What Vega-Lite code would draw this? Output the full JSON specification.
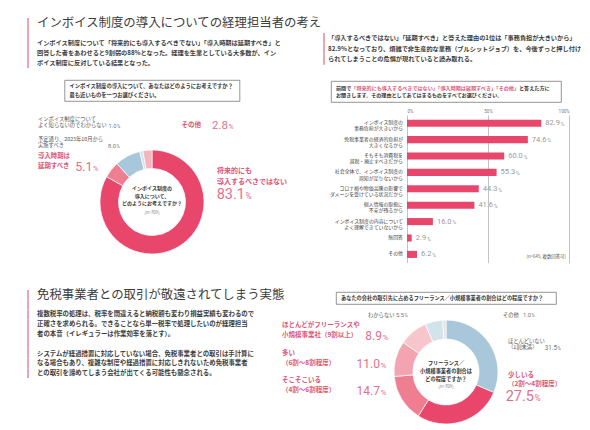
{
  "$schema": "https://vega.github.io/schema/vega-lite/v6.json",
  "background": "#ffffff",
  "padding": {"left": 27, "top": 15, "right": 0, "bottom": 0},
  "config": {
    "view": {"stroke": null},
    "font": "Noto Sans CJK JP",
    "text": {"font": "Noto Sans CJK JP", "baseline": "middle"},
    "axis": {"labelFont": "Roboto"}
  },
  "datasets": {
    "introA": [
      {"line": 0, "role": "heading", "text": "インボイス制度の導入についての経理担当者の考え"},
      {"line": 1, "role": "body", "text": ""},
      {"line": 2, "role": "body", "text": "インボイス制度について「将来的にも導入するべきでない」「導入時期は延期すべき」と"},
      {"line": 3, "role": "body", "text": "回答した者をあわせると9割弱の88%となった。経理を生業としている大多数が、イン"},
      {"line": 4, "role": "body", "text": "ボイス制度に反対している結果となった。"}
    ],
    "introR": [
      {"line": 0, "text": "「導入するべきではない」「延期すべき」と答えた理由の1位は「事務負担が大きいから」"},
      {"line": 1, "text": "82.9%となっており、煩雑で非生産的な業務（ブルシットジョブ）を、今後ずっと押し付け"},
      {"line": 2, "text": "られてしまうことの危惧が現れていると読み取れる。"}
    ],
    "introB": [
      {"line": 0, "role": "heading", "text": "免税事業者との取引が敬遠されてしまう実態"},
      {"line": 1, "role": "body", "text": ""},
      {"line": 2, "role": "body", "text": "複数税率の処理は、税率を間違えると納税額も変わり損益実績も変わるので"},
      {"line": 3, "role": "body", "text": "正確さを求められる。できることなら単一税率で処理したいのが経理担当"},
      {"line": 4, "role": "body", "text": "者の本音（イレギュラーは作業効率を落とす）。"},
      {"line": 5, "role": "body", "text": ""},
      {"line": 6, "role": "body", "text": "システムが経過措置に対応していない場合、免税事業者との取引は手計算に"},
      {"line": 7, "role": "body", "text": "なる場合もあり、複雑な制度や経過措置に対応しきれないため免税事業者"},
      {"line": 8, "role": "body", "text": "との取引を諦めてしまう会社が出てくる可能性も懸念される。"}
    ],
    "question1": [
      {"line": 0, "text": "インボイス制度の導入について、あなたはどのようにお考えですか？"},
      {"line": 1, "text": "最も近いものを一つお選びください。"}
    ],
    "question2": [
      {"line": 0, "part": "lead", "text": "前問で"},
      {"line": 0, "part": "quote", "text": "「将来的にも導入するべきではない」「導入時期は延期すべき」「その他」"},
      {"line": 0, "part": "tail", "text": "と答えた方に"},
      {"line": 1, "part": "lead", "text": "お聞きします。その理由としてあてはまるものをすべてお選びください。"}
    ],
    "question3": [
      {"line": 0, "text": "あなたの会社の取引先に占めるフリーランス／小規模事業者の割合はどの程度ですか？"}
    ],
    "opinion": [
      {"n": 1, "label": "将来的にも\n導入するべきではない", "value": 83.1},
      {"n": 2, "label": "導入時期は\n延期すべき", "value": 5.1},
      {"n": 3, "label": "予定通り、2023年10月から\n実施すべき", "value": 8.0},
      {"n": 4, "label": "インボイス制度について\nよく知らないのでわからない", "value": 1.0},
      {"n": 5, "label": "その他", "value": 2.8}
    ],
    "opinionCenter": [
      {"text": "インボイス制度の\n導入について、\nどのようにお考えですか？", "base": "（n=709）"}
    ],
    "reasons": [
      {"reason": "インボイス制度の\n事務負担が大きいから", "pct": 82.9},
      {"reason": "免税事業者の経済的負担が\n大きくなるから", "pct": 74.6},
      {"reason": "そもそも消費税を\n減税・廃止すべきだから", "pct": 60.0},
      {"reason": "社会全体で、インボイス制度の\n周知が足りないから", "pct": 55.3},
      {"reason": "コロナ禍や物価高騰の影響で\nダメージを受けている状況だから", "pct": 44.3},
      {"reason": "個人情報の取扱に\n不安が残るから", "pct": 41.6},
      {"reason": "インボイス制度の内容について\nよく理解できていないから", "pct": 16.0},
      {"reason": "無回答", "pct": 2.9},
      {"reason": "その他", "pct": 6.2}
    ],
    "share": [
      {"n": 1, "label": "ほとんどいない\n（1割未満）", "value": 31.5},
      {"n": 2, "label": "少しいる\n（2割〜4割程度）", "value": 27.5},
      {"n": 3, "label": "そこそこいる\n（4割〜6割程度）", "value": 14.7},
      {"n": 4, "label": "多い\n（6割〜8割程度）", "value": 11.0},
      {"n": 5, "label": "ほとんどがフリーランスや\n小規模事業社（9割以上）", "value": 8.9},
      {"n": 6, "label": "わからない", "value": 5.5},
      {"n": 7, "label": "その他", "value": 1.0}
    ],
    "shareCenter": [
      {"text": "フリーランス／\n小規模事業者の割合は\nどの程度ですか？", "base": "（n=709）"}
    ]
  },
  "resolve": {"scale": {"color": "independent", "theta": "independent"}},
  "hconcat": [
    {
      "vconcat": [
        {
          "vconcat": [
            {
              "width": 250,
              "height": 53,
              "data": {"name": "introA"},
              "encoding": {
                "y": {"field": "line", "type": "ordinal", "axis": null,
                      "scale": {"type": "band", "paddingInner": 0, "paddingOuter": 0.15, "align": 1}}
              },
              "layer": [
                {"mark": {"type": "rect", "color": "#EFA2B4"},
                 "encoding": {"x": {"value": 0}, "x2": {"value": 2}}},
                {"transform": [{"filter": "datum.role === 'heading'"}],
                 "mark": {"type": "text", "align": "left", "dx": 10, "fontSize": 12.4, "color": "#3c3c3c"},
                 "encoding": {"x": {"value": 0}, "text": {"field": "text"}}},
                {"transform": [{"filter": "datum.role === 'body'"}],
                 "mark": {"type": "text", "align": "left", "dx": 10, "fontSize": 6.2, "fontWeight": "bold", "color": "#3c3c3c"},
                 "encoding": {"x": {"value": 0}, "text": {"field": "text"}}}
              ]
            },
            {
              "vconcat": [
                {
                  "width": 175,
                  "height": 21,
                  "view": {"stroke": "#7a7a7a", "strokeWidth": 0.8},
                  "data": {"name": "question1"},
                  "mark": {"type": "text", "align": "left", "dx": 5, "fontSize": 5.3, "fontWeight": "bold", "color": "#333333"},
                  "encoding": {
                    "y": {"field": "line", "type": "ordinal", "axis": null, "scale": {"type": "point", "padding": 0.667}},
                    "x": {"value": 0},
                    "text": {"field": "text"}
                  }
                },
                {
                  "width": 250,
                  "height": 104,
                  "layer": [
                    {"data": {"name": "opinion"},
                     "mark": {"type": "arc", "outerRadius": 52, "innerRadius": 33.5, "stroke": "#ffffff", "strokeWidth": 0.7},
                     "encoding": {
                       "theta": {"field": "value", "type": "quantitative", "stack": true},
                       "order": {"field": "n", "type": "quantitative"},
                       "color": {"field": "n", "type": "nominal", "legend": null,
                                 "scale": {"domain": [1, 2, 3, 4, 5], "range": ["#E8466B", "#EE7E90", "#A8C7DA", "#D2E3EC", "#F5B5BF"]}}
                     }},
                    {"data": {"name": "opinionCenter"},
                     "mark": {"type": "text", "align": "center", "dy": -14, "fontSize": 5.0, "lineHeight": 7.6, "lineBreak": "\n", "fontWeight": "bold", "color": "#333333"},
                     "encoding": {"text": {"field": "text"}}},
                    {"data": {"name": "opinionCenter"},
                     "mark": {"type": "text", "align": "center", "dy": 11, "fontSize": 4.3, "color": "#777777"},
                     "encoding": {"text": {"field": "base"}}},
                    {"data": {"name": "opinion"}, "transform": [{"filter": "datum.n === 1"}],
                     "mark": {"type": "text", "align": "left", "dx": 65, "dy": -31, "fontSize": 7, "lineHeight": 11, "lineBreak": "\n", "fontWeight": "bold", "color": "#DD5478"},
                     "encoding": {"text": {"field": "label"}}},
                    {"data": {"name": "opinion"}, "transform": [{"filter": "datum.n === 1"}],
                     "mark": {"type": "text", "align": "right", "baseline": "alphabetic", "dx": 93, "dy": -3.5, "font": "Roboto", "fontSize": 14.5, "color": "#E4708C"},
                     "encoding": {"text": {"field": "value", "format": ".1f"}}},
                    {"data": {"name": "opinion"}, "transform": [{"filter": "datum.n === 1"}],
                     "mark": {"type": "text", "align": "left", "baseline": "alphabetic", "dx": 93.5, "dy": -3.5, "font": "Roboto", "fontSize": 8.5, "color": "#E4708C"},
                     "encoding": {"text": {"value": "%"}}},
                    {"data": {"name": "opinion"}, "transform": [{"filter": "datum.n === 2"}],
                     "mark": {"type": "text", "align": "left", "dx": -114, "dy": -46, "fontSize": 6.4, "lineHeight": 10, "lineBreak": "\n", "fontWeight": "bold", "color": "#DD5478"},
                     "encoding": {"text": {"field": "label"}}},
                    {"data": {"name": "opinion"}, "transform": [{"filter": "datum.n === 2"}],
                     "mark": {"type": "text", "align": "right", "baseline": "alphabetic", "dx": -59.5, "dy": -31, "font": "Roboto", "fontSize": 12.5, "color": "#E4708C"},
                     "encoding": {"text": {"field": "value", "format": ".1f"}}},
                    {"data": {"name": "opinion"}, "transform": [{"filter": "datum.n === 2"}],
                     "mark": {"type": "text", "align": "left", "baseline": "alphabetic", "dx": -59, "dy": -31, "font": "Roboto", "fontSize": 7.5, "color": "#E4708C"},
                     "encoding": {"text": {"value": "%"}}},
                    {"data": {"name": "opinion"}, "transform": [{"filter": "datum.n === 3"}],
                     "mark": {"type": "text", "align": "left", "dx": -114, "dy": -63.3, "fontSize": 5.3, "lineHeight": 6.8, "lineBreak": "\n", "color": "#555555"},
                     "encoding": {"text": {"field": "label"}}},
                    {"data": {"name": "opinion"}, "transform": [{"filter": "datum.n === 3"}],
                     "mark": {"type": "text", "align": "right", "baseline": "alphabetic", "dx": -36, "dy": -54.3, "font": "Roboto", "fontSize": 5.8, "color": "#777777"},
                     "encoding": {"text": {"field": "value", "format": ".1f"}}},
                    {"data": {"name": "opinion"}, "transform": [{"filter": "datum.n === 3"}],
                     "mark": {"type": "text", "align": "left", "baseline": "alphabetic", "dx": -35.6, "dy": -54.3, "font": "Roboto", "fontSize": 4.5, "color": "#777777"},
                     "encoding": {"text": {"value": "%"}}},
                    {"data": {"name": "opinion"}, "transform": [{"filter": "datum.n === 4"}],
                     "mark": {"type": "text", "align": "left", "dx": -114, "dy": -83.4, "fontSize": 5.3, "lineHeight": 6.8, "lineBreak": "\n", "color": "#555555"},
                     "encoding": {"text": {"field": "label"}}},
                    {"data": {"name": "opinion"}, "transform": [{"filter": "datum.n === 4"}],
                     "mark": {"type": "text", "align": "right", "baseline": "alphabetic", "dx": -35.5, "dy": -74.5, "font": "Roboto", "fontSize": 5.8, "color": "#777777"},
                     "encoding": {"text": {"field": "value", "format": ".1f"}}},
                    {"data": {"name": "opinion"}, "transform": [{"filter": "datum.n === 4"}],
                     "mark": {"type": "text", "align": "left", "baseline": "alphabetic", "dx": -35.1, "dy": -74.5, "font": "Roboto", "fontSize": 4.5, "color": "#777777"},
                     "encoding": {"text": {"value": "%"}}},
                    {"data": {"name": "opinion"}, "transform": [{"filter": "datum.n === 5"}],
                     "mark": {"type": "text", "align": "right", "dx": 49, "dy": -77, "fontSize": 6.5, "fontWeight": "bold", "color": "#DD5478"},
                     "encoding": {"text": {"field": "label"}}},
                    {"data": {"name": "opinion"}, "transform": [{"filter": "datum.n === 5"}],
                     "mark": {"type": "text", "align": "right", "baseline": "alphabetic", "dx": 76, "dy": -73, "font": "Roboto", "fontSize": 11.5, "color": "#E4708C"},
                     "encoding": {"text": {"field": "value", "format": ".1f"}}},
                    {"data": {"name": "opinion"}, "transform": [{"filter": "datum.n === 5"}],
                     "mark": {"type": "text", "align": "left", "baseline": "alphabetic", "dx": 76.5, "dy": -73, "font": "Roboto", "fontSize": 7, "color": "#E4708C"},
                     "encoding": {"text": {"value": "%"}}}
                  ]
                }
              ],
              "spacing": 49,
              "bounds": "flush",
              "center": true
            }
          ],
          "spacing": 12,
          "bounds": "flush"
        },
        {
          "width": 250,
          "height": 88,
          "data": {"name": "introB"},
          "encoding": {
            "y": {"field": "line", "type": "ordinal", "axis": null,
                  "scale": {"type": "band", "paddingInner": 0, "paddingOuter": 0}}
          },
          "layer": [
            {"mark": {"type": "rect", "color": "#EFA2B4"},
             "encoding": {"x": {"value": 0}, "x2": {"value": 2}}},
            {"transform": [{"filter": "datum.role === 'heading'"}],
             "mark": {"type": "text", "align": "left", "dx": 10, "fontSize": 12.4, "color": "#3c3c3c"},
             "encoding": {"x": {"value": 0}, "text": {"field": "text"}}},
            {"transform": [{"filter": "datum.role === 'body'"}],
             "mark": {"type": "text", "align": "left", "dx": 10, "fontSize": 6.4, "fontWeight": "bold", "color": "#3c3c3c"},
             "encoding": {"x": {"value": 0}, "text": {"field": "text"}}}
          ]
        }
      ],
      "spacing": 275,
      "bounds": "flush"
    },
    {
      "vconcat": [
        {
          "vconcat": [
            {
              "width": 246,
              "height": 53,
              "data": {"name": "introR"},
              "encoding": {
                "y": {"field": "line", "type": "ordinal", "axis": null,
                      "scale": {"type": "band", "paddingInner": 0, "paddingOuter": 1.289, "align": 0.847}}
              },
              "layer": [
                {"mark": {"type": "rect", "color": "#EFA2B4"},
                 "encoding": {"x": {"value": 0}, "x2": {"value": 2}}},
                {"mark": {"type": "text", "align": "left", "dx": 5, "fontSize": 6.2, "fontWeight": "bold", "color": "#3c3c3c"},
                 "encoding": {"x": {"value": 0}, "text": {"field": "text"}}}
              ]
            },
            {
              "width": 230,
              "height": 21,
              "view": {"stroke": "#7a7a7a", "strokeWidth": 0.8},
              "data": {"name": "question2"},
              "encoding": {
                "y": {"field": "line", "type": "ordinal", "axis": null, "scale": {"type": "point", "padding": 0.94}},
                "x": {"value": 0},
                "text": {"field": "text"}
              },
              "layer": [
                {"transform": [{"filter": "datum.part === 'lead'"}],
                 "mark": {"type": "text", "align": "left", "dx": 5, "fontSize": 5.1, "fontWeight": "bold", "color": "#333333"}},
                {"transform": [{"filter": "datum.part === 'quote'"}],
                 "mark": {"type": "text", "align": "left", "dx": 20.3, "fontSize": 5.1, "fontWeight": "bold", "color": "#DD5478"}},
                {"transform": [{"filter": "datum.part === 'tail'"}],
                 "mark": {"type": "text", "align": "left", "dx": 188, "fontSize": 5.1, "fontWeight": "bold", "color": "#333333"}}
              ]
            },
            {
              "width": 246,
              "height": 147.6,
              "data": {"name": "reasons"},
              "encoding": {
                "y": {"field": "reason", "type": "nominal", "sort": null, "axis": null,
                      "scale": {"paddingInner": 0.57, "paddingOuter": 0.285}}
              },
              "layer": [
                {"mark": {"type": "bar", "color": "#E8466B"},
                 "encoding": {
                   "x": {"field": "pct", "type": "quantitative",
                         "scale": {"domain": [0, 100], "range": [84, 246]},
                         "axis": {"orient": "top", "values": [0, 50, 100], "grid": true, "gridColor": "#9a9a9a", "gridWidth": 0.6,
                                  "domain": false, "ticks": false, "labelExpr": "datum.value + '%'", "labelFontSize": 4.5,
                                  "labelColor": "#777777", "labelPadding": 2, "title": null}}
                 }},
                {"mark": {"type": "text", "align": "left", "dx": 4, "font": "Roboto", "fontSize": 7.5, "color": "#9a9a9a"},
                 "encoding": {"x": {"field": "pct", "type": "quantitative"}, "text": {"field": "pct", "format": ".1f"}}},
                {"mark": {"type": "text", "align": "left", "dx": {"expr": "datum.pct >= 10 ? 19.5 : 15.3"}, "dy": 0.8, "font": "Roboto", "fontSize": 5, "color": "#9a9a9a"},
                 "encoding": {"x": {"field": "pct", "type": "quantitative"}, "text": {"value": "%"}}},
                {"mark": {"type": "text", "align": "right", "dx": -4, "fontSize": 4.9, "lineHeight": 6.2, "lineBreak": "\n", "color": "#444444"},
                 "encoding": {"x": {"datum": 0}, "text": {"field": "reason"}}},
                {"data": {"values": [{"note": "(n=645, 複数回答可)"}]},
                 "mark": {"type": "text", "align": "right", "dx": -3, "dy": 3, "fontSize": 4.4, "color": "#555555"},
                 "encoding": {"x": {"datum": 100}, "y": {"datum": "その他"}, "text": {"field": "note"}}}
              ]
            }
          ],
          "spacing": 13,
          "bounds": "flush",
          "center": true
        },
        {
          "vconcat": [
            {
              "width": 220,
              "height": 12,
              "view": {"stroke": "#7a7a7a", "strokeWidth": 0.8},
              "data": {"name": "question3"},
              "mark": {"type": "text", "align": "left", "dx": 5, "fontSize": 5.2, "fontWeight": "bold", "color": "#333333"},
              "encoding": {
                "y": {"field": "line", "type": "ordinal", "axis": null, "scale": {"type": "point", "padding": 0.5}},
                "x": {"value": 0},
                "text": {"field": "text"}
              }
            },
            {
              "width": 246,
              "height": 104,
              "layer": [
                {"data": {"name": "share"},
                 "mark": {"type": "arc", "outerRadius": 52, "innerRadius": 33, "stroke": "#ffffff", "strokeWidth": 0.7},
                 "encoding": {
                   "theta": {"field": "value", "type": "quantitative", "stack": true},
                   "order": {"field": "n", "type": "quantitative"},
                   "color": {"field": "n", "type": "nominal", "legend": null,
                             "scale": {"domain": [1, 2, 3, 4, 5, 6, 7],
                                       "range": ["#A8C7DA", "#E8466B", "#EE7E90", "#F3A4B1", "#F7C6CD", "#D2E3EC", "#E3E3E3"]}}
                 }},
                {"data": {"name": "shareCenter"},
                 "mark": {"type": "text", "align": "center", "dy": -8.7, "fontSize": 5.2, "lineHeight": 7.8, "lineBreak": "\n", "fontWeight": "bold", "color": "#333333"},
                 "encoding": {"text": {"field": "text"}}},
                {"data": {"name": "shareCenter"},
                 "mark": {"type": "text", "align": "center", "dy": 15.3, "fontSize": 4.3, "color": "#777777"},
                 "encoding": {"text": {"field": "base"}}},
                {"data": {"name": "share"}, "transform": [{"filter": "datum.n === 1"}],
                 "mark": {"type": "text", "align": "left", "dx": 62, "dy": -31.5, "fontSize": 5.3, "lineHeight": 6.8, "lineBreak": "\n", "color": "#555555"},
                 "encoding": {"text": {"field": "label"}}},
                {"data": {"name": "share"}, "transform": [{"filter": "datum.n === 1"}],
                 "mark": {"type": "text", "align": "right", "baseline": "alphabetic", "dx": 111, "dy": -22.5, "font": "Roboto", "fontSize": 6.3, "color": "#777777"},
                 "encoding": {"text": {"field": "value", "format": ".1f"}}},
                {"data": {"name": "share"}, "transform": [{"filter": "datum.n === 1"}],
                 "mark": {"type": "text", "align": "left", "baseline": "alphabetic", "dx": 111.4, "dy": -22.5, "font": "Roboto", "fontSize": 4.5, "color": "#777777"},
                 "encoding": {"text": {"value": "%"}}},
                {"data": {"name": "share"}, "transform": [{"filter": "datum.n === 2"}],
                 "mark": {"type": "text", "align": "left", "dx": 62, "dy": 3, "fontSize": 6.5, "lineHeight": 8.5, "lineBreak": "\n", "fontWeight": "bold", "color": "#DD5478"},
                 "encoding": {"text": {"field": "label"}}},
                {"data": {"name": "share"}, "transform": [{"filter": "datum.n === 2"}],
                 "mark": {"type": "text", "align": "right", "baseline": "alphabetic", "dx": 88, "dy": 28.5, "font": "Roboto", "fontSize": 14.5, "color": "#E4708C"},
                 "encoding": {"text": {"field": "value", "format": ".1f"}}},
                {"data": {"name": "share"}, "transform": [{"filter": "datum.n === 2"}],
                 "mark": {"type": "text", "align": "left", "baseline": "alphabetic", "dx": 88.5, "dy": 28.5, "font": "Roboto", "fontSize": 8.5, "color": "#E4708C"},
                 "encoding": {"text": {"value": "%"}}},
                {"data": {"name": "share"}, "transform": [{"filter": "datum.n === 3"}],
                 "mark": {"type": "text", "align": "left", "dx": -164, "dy": 8, "fontSize": 6.5, "lineHeight": 10, "lineBreak": "\n", "fontWeight": "bold", "color": "#DD5478"},
                 "encoding": {"text": {"field": "label"}}},
                {"data": {"name": "share"}, "transform": [{"filter": "datum.n === 3"}],
                 "mark": {"type": "text", "align": "right", "baseline": "alphabetic", "dx": -66, "dy": 23, "font": "Roboto", "fontSize": 12, "color": "#E4708C"},
                 "encoding": {"text": {"field": "value", "format": ".1f"}}},
                {"data": {"name": "share"}, "transform": [{"filter": "datum.n === 3"}],
                 "mark": {"type": "text", "align": "left", "baseline": "alphabetic", "dx": -65.5, "dy": 23, "font": "Roboto", "fontSize": 8, "color": "#E4708C"},
                 "encoding": {"text": {"value": "%"}}},
                {"data": {"name": "share"}, "transform": [{"filter": "datum.n === 4"}],
                 "mark": {"type": "text", "align": "left", "dx": -164, "dy": -19, "fontSize": 6.5, "lineHeight": 10, "lineBreak": "\n", "fontWeight": "bold", "color": "#DD5478"},
                 "encoding": {"text": {"field": "label"}}},
                {"data": {"name": "share"}, "transform": [{"filter": "datum.n === 4"}],
                 "mark": {"type": "text", "align": "right", "baseline": "alphabetic", "dx": -66, "dy": -4, "font": "Roboto", "fontSize": 12, "color": "#E4708C"},
                 "encoding": {"text": {"field": "value", "format": ".1f"}}},
                {"data": {"name": "share"}, "transform": [{"filter": "datum.n === 4"}],
                 "mark": {"type": "text", "align": "left", "baseline": "alphabetic", "dx": -65.5, "dy": -4, "font": "Roboto", "fontSize": 8, "color": "#E4708C"},
                 "encoding": {"text": {"value": "%"}}},
                {"data": {"name": "share"}, "transform": [{"filter": "datum.n === 5"}],
                 "mark": {"type": "text", "align": "left", "dx": -164, "dy": -47, "fontSize": 6.5, "lineHeight": 10, "lineBreak": "\n", "fontWeight": "bold", "color": "#DD5478"},
                 "encoding": {"text": {"field": "label"}}},
                {"data": {"name": "share"}, "transform": [{"filter": "datum.n === 5"}],
                 "mark": {"type": "text", "align": "right", "baseline": "alphabetic", "dx": -64, "dy": -32.5, "font": "Roboto", "fontSize": 12, "color": "#E4708C"},
                 "encoding": {"text": {"field": "value", "format": ".1f"}}},
                {"data": {"name": "share"}, "transform": [{"filter": "datum.n === 5"}],
                 "mark": {"type": "text", "align": "left", "baseline": "alphabetic", "dx": -63.5, "dy": -32.5, "font": "Roboto", "fontSize": 8, "color": "#E4708C"},
                 "encoding": {"text": {"value": "%"}}},
                {"data": {"name": "share"}, "transform": [{"filter": "datum.n === 6"}],
                 "mark": {"type": "text", "align": "left", "dx": -78, "dy": -57, "fontSize": 5.3, "color": "#555555"},
                 "encoding": {"text": {"field": "label"}}},
                {"data": {"name": "share"}, "transform": [{"filter": "datum.n === 6"}],
                 "mark": {"type": "text", "align": "right", "baseline": "alphabetic", "dx": -42, "dy": -55, "font": "Roboto", "fontSize": 5.8, "color": "#777777"},
                 "encoding": {"text": {"field": "value", "format": ".1f"}}},
                {"data": {"name": "share"}, "transform": [{"filter": "datum.n === 6"}],
                 "mark": {"type": "text", "align": "left", "baseline": "alphabetic", "dx": -41.6, "dy": -55, "font": "Roboto", "fontSize": 4.5, "color": "#777777"},
                 "encoding": {"text": {"value": "%"}}},
                {"data": {"name": "share"}, "transform": [{"filter": "datum.n === 7"}],
                 "mark": {"type": "text", "align": "left", "dx": 57, "dy": -57, "fontSize": 5.3, "color": "#555555"},
                 "encoding": {"text": {"field": "label"}}},
                {"data": {"name": "share"}, "transform": [{"filter": "datum.n === 7"}],
                 "mark": {"type": "text", "align": "right", "baseline": "alphabetic", "dx": 85, "dy": -55, "font": "Roboto", "fontSize": 5.8, "color": "#777777"},
                 "encoding": {"text": {"field": "value", "format": ".1f"}}},
                {"data": {"name": "share"}, "transform": [{"filter": "datum.n === 7"}],
                 "mark": {"type": "text", "align": "left", "baseline": "alphabetic", "dx": 85.4, "dy": -55, "font": "Roboto", "fontSize": 4.5, "color": "#777777"},
                 "encoding": {"text": {"value": "%"}}}
              ]
            }
          ],
          "spacing": 16,
          "bounds": "flush",
          "center": true
        }
      ],
      "spacing": 277,
      "bounds": "flush"
    }
  ],
  "spacing": 296,
  "bounds": "flush"
}
